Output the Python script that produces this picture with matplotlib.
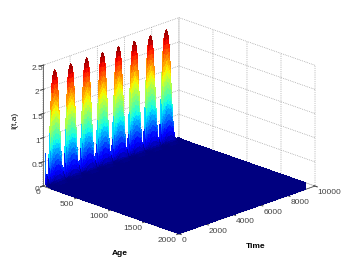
import numpy as np
import matplotlib
matplotlib.use('Agg')
import matplotlib.pyplot as plt

plt.rcParams['font.family'] = ['Liberation Sans', 'DejaVu Sans']

time_samples = [0, 20, 60, 140, 230, 285,
    320, 370, 440, 510, 580, 650, 720, 800, 870, 940, 1020, 1090, 1160, 1230, 1300, 1370, 1420, 1455,
    1490, 1540, 1610, 1680, 1750, 1820, 1890, 1970, 2040, 2110, 2190, 2260, 2330, 2400, 2470, 2540, 2590, 2625,
    2660, 2710, 2780, 2850, 2920, 2990, 3060, 3140, 3210, 3280, 3360, 3430, 3500, 3570, 3640, 3710, 3760, 3795,
    3830, 3880, 3950, 4020, 4090, 4160, 4230, 4310, 4380, 4450, 4530, 4600, 4670, 4740, 4810, 4880, 4930, 4965,
    5000, 5050, 5120, 5190, 5260, 5330, 5400, 5480, 5550, 5620, 5700, 5770, 5840, 5910, 5980, 6050, 6100, 6135,
    6170, 6220, 6290, 6360, 6430, 6500, 6570, 6650, 6720, 6790, 6870, 6940, 7010, 7080, 7150, 7220, 7270, 7305,
    7340, 7390, 7460, 7530, 7600, 7670, 7740, 7820, 7890, 7960, 8040, 8110, 8180, 8250, 8320, 8390, 8440, 8475,
    8510, 8560, 8630, 8700, 8770, 8840, 8910, 8990, 9060, 9130, 9210, 9280, 9350, 9420, 9490, 9560, 9610, 9645,
    9800, 10000]
edge_values = [2.3, 0.9, 0.2, 0.05, 0.02, 0.02,
    0.05, 0.18, 0.55, 1.1, 1.6, 2.0, 2.2, 2.28, 2.32, 2.28, 2.2, 2.0, 1.6, 1.1, 0.55, 0.18, 0.05, 0.02,
    0.05, 0.18, 0.55, 1.1, 1.6, 2.0, 2.2, 2.3, 2.33, 2.3, 2.2, 2.0, 1.6, 1.1, 0.55, 0.18, 0.05, 0.02,
    0.05, 0.18, 0.55, 1.1, 1.6, 2.0, 2.2, 2.3, 2.34, 2.3, 2.2, 2.0, 1.6, 1.1, 0.55, 0.18, 0.05, 0.02,
    0.05, 0.18, 0.55, 1.1, 1.6, 2.0, 2.2, 2.3, 2.34, 2.3, 2.2, 2.0, 1.6, 1.1, 0.55, 0.18, 0.05, 0.02,
    0.05, 0.18, 0.55, 1.1, 1.6, 2.0, 2.2, 2.3, 2.34, 2.3, 2.2, 2.0, 1.6, 1.1, 0.55, 0.18, 0.05, 0.02,
    0.05, 0.18, 0.55, 1.1, 1.6, 2.0, 2.2, 2.3, 2.34, 2.3, 2.2, 2.0, 1.6, 1.1, 0.55, 0.18, 0.05, 0.02,
    0.05, 0.18, 0.55, 1.1, 1.6, 2.0, 2.2, 2.3, 2.34, 2.3, 2.2, 2.0, 1.6, 1.1, 0.55, 0.18, 0.05, 0.02,
    0.05, 0.18, 0.55, 1.1, 1.6, 2.0, 2.2, 2.3, 2.34, 2.3, 2.2, 2.0, 1.6, 1.1, 0.55, 0.18, 0.05, 0.02,
    0.02, 0.02]

# falloff with age behind the ridge
age_samples = [0, 2, 4, 6, 8, 10, 12, 14, 16, 18, 20, 22, 24, 26, 28, 30, 33, 36, 40, 45, 50, 60, 80, 120, 2000]
age_falloff = [1.0, 0.97, 0.93, 0.89, 0.85, 0.8, 0.75, 0.7, 0.65, 0.6, 0.55, 0.5, 0.45, 0.4, 0.36, 0.32,
               0.27, 0.22, 0.17, 0.12, 0.08, 0.04, 0.02, 0.0, 0.0]

age_ticks = [0, 500, 1000, 1500, 2000]
time_ticks = [0, 2000, 4000, 6000, 8000, 10000]
z_ticks = [0, 0.5, 1, 1.5, 2, 2.5]
z_labels = ['0', '0.5', '1', '1.5', '2', '2.5']

A, T = np.meshgrid(age_samples, time_samples)
Z = np.outer(edge_values, age_falloff)

fig = plt.figure(figsize=(3.46, 2.61), dpi=100)
ax = fig.add_axes([0.027, 0.005, 0.96, 1.0], projection='3d', proj_type='ortho', computed_zorder=False)
ax.view_init(elev=20.5, azim=-45)
ax.set_box_aspect((1, 1, 0.67), zoom=1.12)

ax.plot_surface(A, T, Z, cmap='jet', vmin=0, vmax=2.35, rstride=1, cstride=1,
                linewidth=0, antialiased=False, shade=False, zorder=1)

ax.set_xlim(0, 2000)
ax.set_ylim(0, 10000)
ax.set_zlim(0, 2.5)
ax.set_xticks(age_ticks)
ax.set_yticks(time_ticks)
ax.set_zticks(z_ticks)
ax.set_zticklabels(z_labels)
ax.tick_params(labelsize=6, colors='#444444', pad=-6, length=2)
ax.zaxis.set_ticks_position('lower')
for lab in ax.get_xticklabels():
    lab.set_ha('right')
for lab in ax.get_yticklabels():
    lab.set_ha('left')

for axis in (ax.xaxis, ax.yaxis, ax.zaxis):
    axis.set_pane_color((1, 1, 1, 0))
    axis.pane.set_edgecolor('white')
    axis.line.set_color('#555555')
    axis.line.set_linewidth(0.6)
    axis._axinfo['grid'].update(color='#888888', linewidth=0.5, linestyle=':')

fig.text(0.345, 0.027, 'Age', fontsize=6, fontweight='bold', ha='center', va='center')
fig.text(0.74, 0.054, 'Time', fontsize=6, fontweight='bold', ha='center', va='center')
fig.text(0.043, 0.54, 'I(t,a)', fontsize=6, rotation=90, ha='center', va='center')

fig.savefig('out.png', dpi=100)
